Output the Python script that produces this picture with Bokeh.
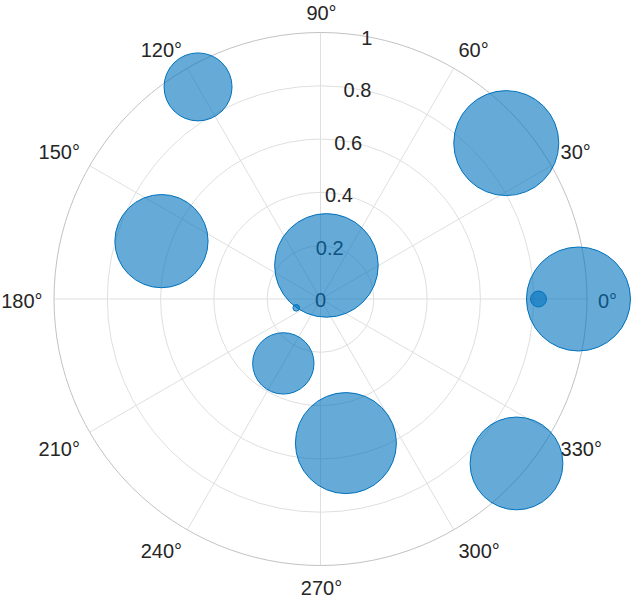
import numpy as np
from bokeh.plotting import figure
from bokeh.models import Range1d, ColumnDataSource, GlobalInlineStyleSheet
from bokeh.core.properties import value
from bokeh.embed import file_html
from bokeh.resources import INLINE

# ---- data ----
theta_deg = [0, 40, 80, 120, 160, 200, 240, 280, 320, 360]
r_vals = [0.968, 0.910, 0.128, 0.919, 0.635, 0.097, 0.279, 0.549, 0.960, 0.818]
size_vals = [98.1, 100.0, 97.3, 41.7, 78.7, 0.0, 33.9, 92.5, 78.0, 1.9]
r_ticks = [0.2, 0.4, 0.6, 0.8, 1.0]
r_tick_values = [0, 0.2, 0.4, 0.6, 0.8, 1.0]
r_tick_labels = ["0", "0.2", "0.4", "0.6", "0.8", "1"]
theta_ticks = [0, 30, 60, 90, 120, 150, 180, 210, 240, 270, 300, 330]
theta_tick_labels = ["0°", "30°", "60°", "90°", "120°", "150°", "180°",
                     "210°", "240°", "270°", "300°", "330°"]

# ---- layout / style ----
W, H = 633, 598
CX, CY = 320.0, 298.5   # pixel position of pole
SCALE = 266.5           # pixels per unit radius
R_AXIS_ANGLE = 80.0
LABEL_R = 279.0 / SCALE
FONT = value("Liberation Sans")
TXT = "#262626"
BLUE = "#0072BD"
GRID = "#dfdfdf"
EDGE = "#c2c2c2"
D_MIN, D_MAX = 6.6, 105.0

p = figure(width=W, height=H, output_backend="svg", toolbar_location=None,
           x_range=Range1d(-CX / SCALE, (W - CX) / SCALE),
           y_range=Range1d(-(H - CY) / SCALE, CY / SCALE),
           min_border=0, outline_line_color=None)
p.axis.visible = False
p.grid.visible = False
p.background_fill_color = "white"
p.border_fill_color = "white"
p.stylesheets = [GlobalInlineStyleSheet(css="html,body{margin:0;padding:0;overflow:hidden;}")]

# r grid circles
p.circle(x=[0] * (len(r_ticks) - 1), y=[0] * (len(r_ticks) - 1), radius=r_ticks[:-1],
         fill_color=None, line_color=GRID, line_width=1)

# theta spokes
th = np.deg2rad(theta_ticks)
p.segment(x0=np.zeros(len(th)), y0=np.zeros(len(th)),
          x1=r_ticks[-1] * np.cos(th), y1=r_ticks[-1] * np.sin(th),
          line_color=GRID, line_width=1)

# outer boundary
p.circle(x=[0], y=[0], radius=[r_ticks[-1]], fill_color=None, line_color=EDGE, line_width=1)

# r tick labels
ra = np.deg2rad(R_AXIS_ANGLE)
rv = np.array(r_tick_values)
p.text(x=rv * np.cos(ra), y=rv * np.sin(ra), text=r_tick_labels,
       text_font=FONT, text_font_size="20px", text_color=TXT,
       text_align="center", text_baseline="middle", y_offset=1)

# theta tick labels
aligns, yoffs, xoffs = [], [], []
for t in theta_ticks:
    c, s = np.cos(np.deg2rad(t)), np.sin(np.deg2rad(t))
    if c > 0.01:
        aligns.append("left"); xoffs.append(-1.5)
    elif c < -0.01:
        aligns.append("right"); xoffs.append(1.0)
    else:
        aligns.append("center"); xoffs.append(1.0)
    if s > 0.01:
        yoffs.append(-7.5)
    elif s < -0.01:
        yoffs.append(10.0)
    else:
        yoffs.append(2.0)
tsrc = ColumnDataSource(dict(x=LABEL_R * np.cos(th), y=LABEL_R * np.sin(th),
                             text=theta_tick_labels, align=aligns, xo=xoffs, yo=yoffs))
p.text(x="x", y="y", text="text", source=tsrc, text_align="align",
       x_offset="xo", y_offset="yo",
       text_font=FONT, text_font_size="20px", text_color=TXT, text_baseline="middle")

# bubbles
tb = np.deg2rad(theta_deg)
rb = np.array(r_vals)
sv = np.array(size_vals)
frac = (sv - sv.min()) / (sv.max() - sv.min())
diam = np.sqrt(D_MIN ** 2 + frac * (D_MAX ** 2 - D_MIN ** 2))
bsrc = ColumnDataSource(dict(x=rb * np.cos(tb), y=rb * np.sin(tb), d=diam))
p.scatter(x="x", y="y", size="d", source=bsrc, marker="circle",
          fill_color=BLUE, fill_alpha=0.6, line_color=BLUE, line_width=1)

open("out.html", "w").write(file_html(p, INLINE))
